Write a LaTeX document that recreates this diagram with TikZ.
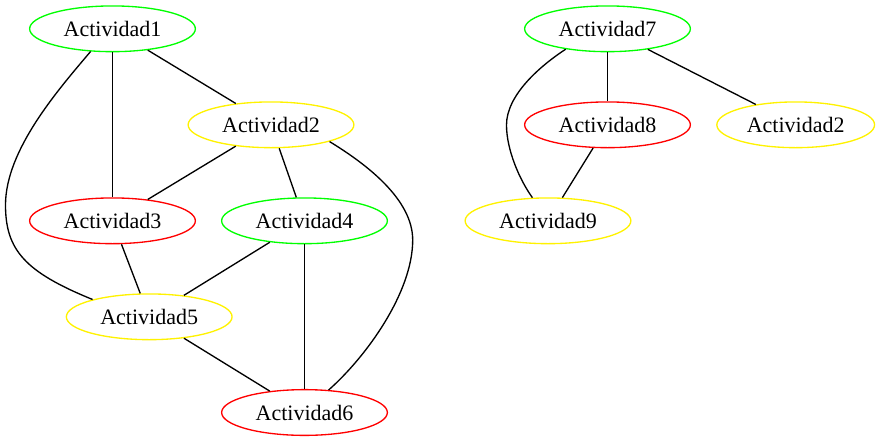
\documentclass[tikz,border=0pt]{standalone}
\usepackage{fontspec}
\setmainfont{Liberation Serif}
\usetikzlibrary{shapes.geometric}
\begin{document}
\begin{tikzpicture}[
    x=0.75pt, y=-0.75pt,
    act/.style={ellipse, draw, line width=1pt, minimum width=124.3pt,
                minimum height=34.3pt, inner sep=0pt,
                font=\fontsize{16.5}{20}\selectfont},
    verde/.style={act, draw=green},
    amarilla/.style={act, draw=yellow},
    roja/.style={act, draw=red},
    lin/.style={line width=1pt, black},
]
\useasboundingbox (0,0) rectangle (881,443);
% left component
\node[verde] (a1) at (112.5,28.8) {Actividad1};
\node[amarilla] (a2) at (271,124.8) {Actividad2};
\node[roja] (a3) at (112.5,220.8) {Actividad3};
\node[verde] (a4) at (304.5,220.8) {Actividad4};
\node[amarilla] (a5) at (149.2,316.8) {Actividad5};
\node[roja] (a6) at (304.5,412.5) {Actividad6};

% right component
\node[verde] (a7) at (607.5,28.8) {Actividad7};
\node[roja] (a8) at (607.5,124.8) {Actividad8};
\node[amarilla, minimum width=118.3pt] (b2) at (795.7,124.8) {Actividad2};
\node[amarilla] (a9) at (548,220.8) {Actividad9};

\draw[lin] (a1) -- (a2);
\draw[lin] (a1) -- (a3);
\draw[lin] (a1.226) .. controls (58,90) and (5.5,150) .. (5.5,205)
    .. controls (5.5,250) and (25,272) .. (a5.163);
\draw[lin] (a2) -- (a3);
\draw[lin] (a2) -- (a4);
\draw[lin] (a2.344) .. controls (368,165) and (412.7,200) .. (412.7,240)
    .. controls (412.7,292) and (367,356) .. (a6.43);
\draw[lin] (a3) -- (a5);
\draw[lin] (a4) -- (a5);
\draw[lin] (a4) -- (a6);
\draw[lin] (a5) -- (a6);

\draw[lin] (a7) -- (a8);
\draw[lin] (a7) -- (b2);
\draw[lin] (a7.206) .. controls (540,66) and (506.5,95) .. (506.5,125)
    .. controls (506.5,150) and (519.7,180) .. (a9.124);
\draw[lin] (a8) -- (a9);
\end{tikzpicture}
\end{document}
